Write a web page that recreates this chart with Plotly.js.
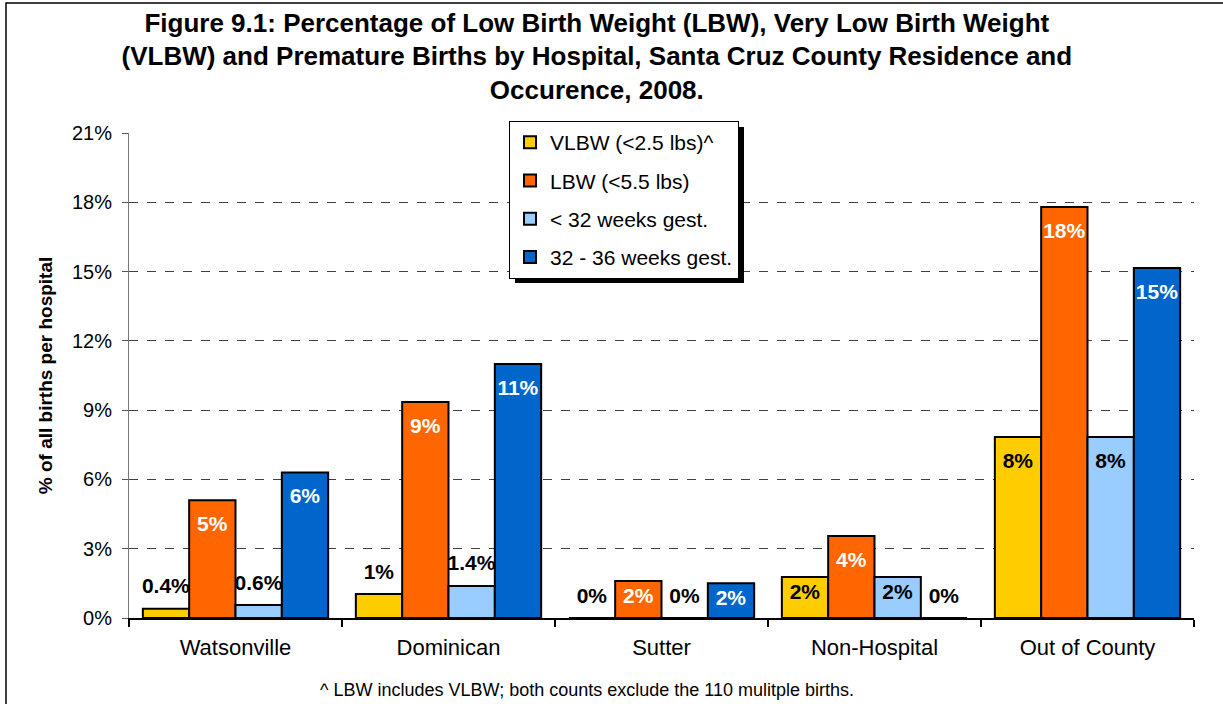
<!DOCTYPE html>
<html>
<head>
<meta charset="utf-8">
<script src="https://cdn.plot.ly/plotly-3.0.1.min.js"></script>
<style>html,body{margin:0;padding:0;background:#fff;}#chart{width:1223px;height:704px;}</style>
</head>
<body>
<div id="chart"></div>
<script>
// ---- data ----
const hospitals = ["Watsonville", "Dominican", "Sutter", "Non-Hospital", "Out of County"];
const seriesNames = ["VLBW (<2.5 lbs)^", "LBW (<5.5 lbs)", "< 32 weeks gest.", "32 - 36 weeks gest."];
const vlbw    = [0.4, 1.04, 0, 1.78, 7.84];
const lbw     = [5.1, 9.35, 1.6, 3.55, 17.8];
const under32 = [0.56, 1.39, 0, 1.78, 7.84];
const w32to36 = [6.3, 11.0, 1.5, 0, 15.15];
const vlbwLabels    = ["0.4%", "1%", "0%", "2%", "8%"];
const lbwLabels     = ["5%", "9%", "2%", "4%", "18%"];
const under32Labels = ["0.6%", "1.4%", "0%", "2%", "8%"];
const w32to36Labels = ["6%", "11%", "2%", "0%", "15%"];
const yTickVals = [0, 3, 6, 9, 12, 15, 18, 21];

// ---- styles ----
const FONT = "Liberation Sans, Arial, sans-serif";
const colors = ["#FFCC00", "#FF6600", "#99CCFF", "#0066CC"];
const insideColors = ["#000000", "#FFFFFF", "#000000", "#FFFFFF"];
const values = [vlbw, lbw, under32, w32to36];
const labels = [vlbwLabels, lbwLabels, under32Labels, w32to36Labels];
const NB = "\u00a0";
const big = s => "<span style='font-size:21px'>" + s + "</span>";

const traces = values.map((vals, i) => {
  const inside = vals.map(v => v >= 1.45);
  const pos = inside.map(f => f ? "inside" : "outside");
  const tcol = inside.map(f => f ? insideColors[i] : "#000000");
  const txt = labels[i].map((s, j) => {
    if (!inside[j]) return big(s) + "<br>" + NB;
    if (vals[j] >= 3) return NB + "<br>" + NB + "<br>" + big(s);
    return big(s);
  });
  return {
    type: "bar",
    name: seriesNames[i],
    x: hospitals,
    y: vals,
    text: txt,
    textposition: pos,
    insidetextanchor: "end",
    textangle: 0,
    constraintext: "none",
    cliponaxis: false,
    textfont: {family: FONT, size: 8, color: tcol, weight: "bold"},
    marker: {color: colors[i], line: {color: "#000000", width: 2}},
    legendgroup: "g" + i,
    hoverinfo: "skip"
  };
});

const L = 129, R = 29, T = 133, B = 86;
const W = 1223, H = 704;
const pw = W - L - R, ph = H - T - B;
const px2x = p => (p - L) / pw;
const py2y = p => (H - B - p) / ph;

const layout = {
  width: W, height: H,
  margin: {l: L, r: R, t: T, b: B},
  paper_bgcolor: "#FFFFFF",
  plot_bgcolor: "#FFFFFF",
  font: {family: FONT, color: "#000000"},
  title: {
    text: "Figure 9.1: Percentage of Low Birth Weight (LBW), Very Low Birth Weight<br>(VLBW) and Premature Births by Hospital, Santa Cruz County Residence and<br>Occurence, 2008.",
    font: {family: FONT, size: 26, color: "#000000", weight: "bold"},
    x: 0.488, xanchor: "center",
    y: 0.955, yanchor: "top", yref: "container"
  },
  barmode: "group",
  bargap: 0.13,
  bargroupgap: 0,
  showlegend: true,
  legend: {
    x: px2x(509), y: py2y(121), xanchor: "left", yanchor: "top",
    bgcolor: "#FFFFFF", bordercolor: "#000000", borderwidth: 1,
    font: {family: FONT, size: 21, color: "#000000"},
    traceorder: "grouped", tracegroupgap: 8,
    itemwidth: 30
  },
  xaxis: {
    type: "category",
    showline: true, linecolor: "#000000", linewidth: 1.5,
    ticks: "outside", tickson: "boundaries", ticklen: 7, tickcolor: "#000000", tickwidth: 1.5,
    ticklabelstandoff: 9,
    tickfont: {family: FONT, size: 22, color: "#000000"},
    showgrid: false, zeroline: false, fixedrange: true
  },
  yaxis: {
    range: [0, 21],
    tickvals: yTickVals,
    ticktext: yTickVals.map(v => v + "%"),
    ticks: "outside", ticklen: 6, tickcolor: "#555555",
    ticklabelstandoff: 6,
    tickfont: {family: FONT, size: 20, color: "#000000"},
    showline: true, linecolor: "#777777", linewidth: 1,
    showgrid: true, gridcolor: "#404040", gridwidth: 1, griddash: "dash",
    zeroline: false,
    title: {text: "% of all births per hospital", font: {family: FONT, size: 19, color: "#000000", weight: "bold"}, standoff: 14},
    fixedrange: true
  },
  shapes: [
    {type: "rect", xref: "paper", yref: "paper",
     x0: px2x(6), x1: px2x(1240), y0: py2y(720), y1: py2y(3),
     line: {color: "#000000", width: 1.5}, fillcolor: "rgba(0,0,0,0)", layer: "above"},
    {type: "rect", xref: "paper", yref: "paper",
     x0: px2x(515), x1: px2x(744), y0: py2y(283), y1: py2y(127),
     line: {width: 0}, fillcolor: "#000000", layer: "above"}
  ],
  annotations: [
    {text: "^ LBW includes VLBW; both counts exclude the 110 mulitple births.",
     xref: "paper", yref: "paper", x: px2x(587), y: py2y(690),
     xanchor: "center", yanchor: "middle", showarrow: false,
     font: {family: FONT, size: 18, color: "#000000"}}
  ]
};

Plotly.newPlot("chart", traces, layout, {displayModeBar: false, staticPlot: true});
</script>
</body>
</html>
